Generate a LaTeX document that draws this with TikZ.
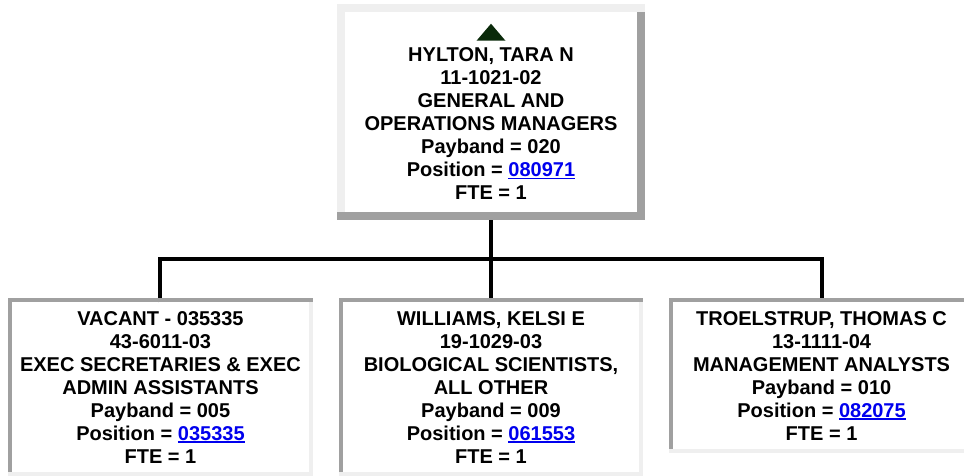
\documentclass[tikz,border=0pt]{standalone}
\usepackage{fontspec}
\setmainfont{Liberation Sans}
\usetikzlibrary{positioning, calc}

\definecolor{boxlight}{HTML}{EFEFEF}
\definecolor{boxdark}{HTML}{A0A0A0}
\definecolor{linkblue}{HTML}{0000EE}
\definecolor{marker}{HTML}{0A2A0A}
\newcommand{\poslink}[1]{\textcolor{linkblue}{\setbox0\hbox{#1}\rlap{\rule[-2.2pt]{\wd0}{1.3pt}}\box0}}

\begin{document}
\begin{tikzpicture}[x=0.75pt, y=-0.75pt]
  % Styles
  \tikzstyle{card} = [rectangle, fill=white, inner sep=0pt, align=center, font=\fontsize{15}{17.25}\selectfont\bfseries]
  \tikzstyle{chief} = [card, minimum width=219pt, minimum height=150pt]
  \tikzstyle{staff} = [card, minimum width=222pt, minimum height=126.75pt]
  \tikzstyle{wire} = [draw, line width=3pt]

  \useasboundingbox (0,0) rectangle (964,475);
  \clip (0,0) rectangle (964,475);

  % Boxes
  \node[chief] (hylton) at (491,112) {\phantom{X}\\HYLTON, TARA N\\11-1021-02\\GENERAL AND\\OPERATIONS MANAGERS\\Payband = 020\\Position = \poslink{080971}\\FTE = 1};
  \node[staff, below=67.5pt of hylton] (williams) {WILLIAMS, KELSI E\\19-1029-03\\BIOLOGICAL SCIENTISTS,\\ALL OTHER\\Payband = 009\\Position = \poslink{061553}\\FTE = 1};
  \node[staff, left=25.5pt of williams] (vacant) {VACANT - 035335\\43-6011-03\\EXEC SECRETARIES \& EXEC\\ADMIN ASSISTANTS\\Payband = 005\\Position = \poslink{035335}\\FTE = 1};
  \node[staff, minimum height=109.5pt, right=25.5pt of williams.north east, anchor=north west] (troelstrup) {TROELSTRUP, THOMAS C\\13-1111-04\\MANAGEMENT ANALYSTS\\Payband = 010\\Position = \poslink{082075}\\FTE = 1};

  % Connectors
  \coordinate[below=35.25pt of hylton.south] (bus);
  \draw[wire] (hylton.south) -- (bus);
  \draw[wire] (vacant.north) |- (bus) -| (troelstrup.north);
  \draw[wire] (bus) -- (williams.north);

  % Borders (raised top box, sunken staff boxes)
  \fill[boxlight] ($(hylton.north west)+(-8,-8)$) rectangle ($(hylton.north east)+(8,0)$);
  \fill[boxlight] ($(hylton.north west)+(-8,0)$) rectangle (hylton.south west);
  \fill[boxdark] ($(hylton.south west)+(-8,0)$) rectangle ($(hylton.south east)+(8,8)$);
  \fill[boxdark] (hylton.north east) rectangle ($(hylton.south east)+(8,0)$);
  \foreach \b in {vacant, williams, troelstrup} {
    \fill[boxdark] ($(\b.north west)+(-4,-4)$) rectangle ($(\b.north east)+(4,0)$);
    \fill[boxdark] ($(\b.north west)+(-4,0)$) rectangle (\b.south west);
    \fill[boxlight] ($(\b.south west)+(-4,0)$) rectangle ($(\b.south east)+(4,4)$);
    \fill[boxlight] (\b.north east) rectangle ($(\b.south east)+(4,0)$);
  }

  % Up marker
  \fill[marker] ($(hylton.north)+(0,12)$) -- ($(hylton.north)+(14.5,29)$) -- ($(hylton.north)+(-14.5,29)$) -- cycle;
\end{tikzpicture}
\end{document}
